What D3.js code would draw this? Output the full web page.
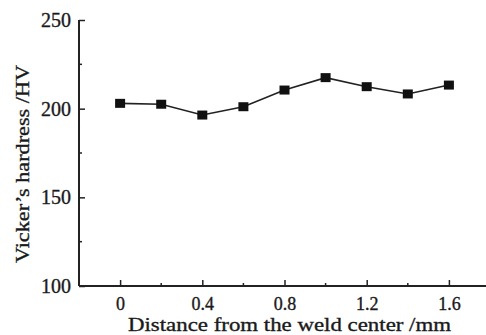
<!DOCTYPE html>
<html>
<head>
<meta charset="utf-8">
<script src="https://cdn.jsdelivr.net/npm/d3@7"></script>
<style>
  html, body { margin: 0; padding: 0; background: #fff; }
  svg { display: block; }
  text { font-family: "Liberation Serif", "Times New Roman", serif; fill: #1a1a1a; }
</style>
</head>
<body>
<svg id="chart" width="486" height="335"></svg>
<script>
const distances = [0, 0.2, 0.4, 0.6, 0.8, 1.0, 1.2, 1.4, 1.6];
const hardness = [203.0, 202.5, 196.4, 201.1, 210.5, 217.5, 212.4, 208.3, 213.3];
const xMajorTicks = [0, 0.4, 0.8, 1.2, 1.6];
const xMinorTicks = [0.2, 0.6, 1.0, 1.4];
const yMajorTicks = [100, 150, 200, 250];
const yMinorTicks = [125, 175, 225];
const xLabel = "Distance from the weld center /mm";
const yLabel = "Vicker\u2019s hardress /HV";

const svg = d3.select("#chart");
const x = d3.scaleLinear().domain([-0.2, 1.8]).range([79, 490]);
const y = d3.scaleLinear().domain([100, 250]).range([286, 20]);
const ink = "#222";

// x axis
const gx = svg.append("g").attr("transform", `translate(0,${y(100)})`);
gx.call(d3.axisBottom(x).tickValues(xMajorTicks).tickSize(-6).tickPadding(11)
  .tickFormat(d => d === 0 ? "0" : d3.format(".1f")(d)));
gx.append("g").selectAll("line").data(xMinorTicks).join("line")
  .attr("x1", d => x(d)).attr("x2", d => x(d)).attr("y1", 0).attr("y2", -3)
  .attr("stroke", ink).attr("stroke-width", 1.5);

// y axis
const gy = svg.append("g").attr("transform", `translate(${x(-0.2)},0)`);
gy.call(d3.axisLeft(y).tickValues(yMajorTicks).tickSize(-6).tickPadding(8));
gy.append("g").selectAll("line").data(yMinorTicks).join("line")
  .attr("y1", d => y(d)).attr("y2", d => y(d)).attr("x1", 0).attr("x2", 3)
  .attr("stroke", ink).attr("stroke-width", 1.5);

[gx, gy].forEach(g => {
  g.select(".domain").attr("stroke", ink).attr("stroke-width", 2).attr("d", null);
  g.selectAll(".tick line").attr("stroke", ink).attr("stroke-width", 1.5);
});
gx.select(".domain").attr("d", `M${x(-0.2)},0H${x(1.8)}`);
gy.select(".domain").attr("d", `M0,${y(100)}V${y(250)}`);

const heavy = sel => sel.attr("font-family", "Liberation Serif").attr("fill", "#1a1a1a")
  .attr("stroke", "#1a1a1a").attr("stroke-width", 0.35);
heavy(gx.selectAll(".tick text").attr("font-size", 18));
heavy(gy.selectAll(".tick text").attr("font-size", 20));

// line
const line = d3.line().x((d, i) => x(distances[i])).y(d => y(d));
svg.append("path").datum(hardness).attr("d", line)
  .attr("fill", "none").attr("stroke", ink).attr("stroke-width", 1.6);

// markers
const ms = 10;
svg.append("g").selectAll("rect").data(hardness).join("rect")
  .attr("x", (d, i) => x(distances[i]) - ms / 2)
  .attr("y", d => y(d) - ms / 2 + 0.5)
  .attr("width", ms).attr("height", ms - 1)
  .attr("fill", "#111");

// axis labels
heavy(svg.append("text").attr("x", 289.5).attr("y", 331)
  .attr("text-anchor", "middle").attr("font-size", 19)
  .attr("textLength", 323).attr("lengthAdjust", "spacingAndGlyphs")
  .text(xLabel));

heavy(svg.append("text")
  .attr("transform", "translate(29,164) rotate(-90)")
  .attr("text-anchor", "middle").attr("font-size", 19)
  .attr("textLength", 198).attr("lengthAdjust", "spacingAndGlyphs")
  .text(yLabel));
</script>
</body>
</html>
